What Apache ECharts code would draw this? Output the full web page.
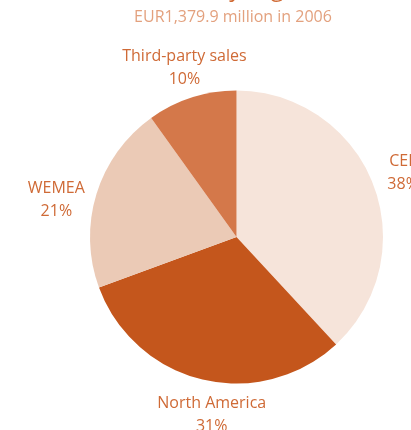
<!DOCTYPE html>
<html>
<head>
<meta charset="utf-8">
<script src="https://cdn.jsdelivr.net/npm/echarts@6/dist/echarts.min.js"></script>
<style>
html,body{margin:0;padding:0;background:#fff;}
#c{width:411px;height:430px;}
</style>
</head>
<body>
<div id="c"></div>
<script>
const titleText = 'Sales by region';
const subtitleText = 'EUR1,379.9 million in 2006';
const categories = ['CEE', 'North America', 'WEMEA', 'Third-party sales'];
const shares = [38.1, 31.3, 20.7, 9.9];
const shareLabels = ['38%', '31%', '21%', '10%'];
const colors = ['#f6e4da', '#c4561c', '#ebcab6', '#d4784a'];

const labelShift = [[-4, 3], [18, 0], [-5, 17], [4, 5]];

const chart = echarts.init(document.getElementById('c'), null, {renderer: 'canvas'});
const center = [236.5, 237];
const font = '"Open Sans", sans-serif';

chart.setOption({
  animation: false,
  title: [
    {text: titleText, left: 230, textAlign: 'center', top: -28, textStyle: {fontFamily: font, fontSize: 24, fontWeight: 'normal', color: '#d06a34'}},
    {text: subtitleText, left: 228, textAlign: 'center', top: 4, textStyle: {fontFamily: font, fontSize: 16, fontWeight: 'normal', color: '#e3a17e'}}
  ],
  series: [
    {
      type: 'pie',
      center: center,
      radius: 146.5,
      startAngle: 90,
      clockwise: true,
      silent: true,
      label: {show: false},
      labelLine: {show: false},
      itemStyle: {borderWidth: 0},
      data: categories.map((c, i) => ({name: c, value: shares[i], itemStyle: {color: colors[i]}}))
    },
    {
      type: 'pie',
      center: center,
      radius: [146.5, 214],
      startAngle: 90,
      clockwise: true,
      silent: true,
      avoidLabelOverlap: false,
      itemStyle: {color: 'rgba(0,0,0,0)', borderWidth: 0},
      label: {
        show: true,
        position: 'inside',
        formatter: p => p.name + '\n' + shareLabels[p.dataIndex],
        fontFamily: font,
        fontSize: 16,
        lineHeight: 23,
        color: '#cf6a36',
        align: 'center'
      },
      labelLayout: p => ({dx: labelShift[p.dataIndex][0], dy: labelShift[p.dataIndex][1]}),
      labelLine: {show: false},
      data: categories.map((c, i) => ({name: c, value: shares[i]}))
    }
  ]
});
</script>
</body>
</html>
